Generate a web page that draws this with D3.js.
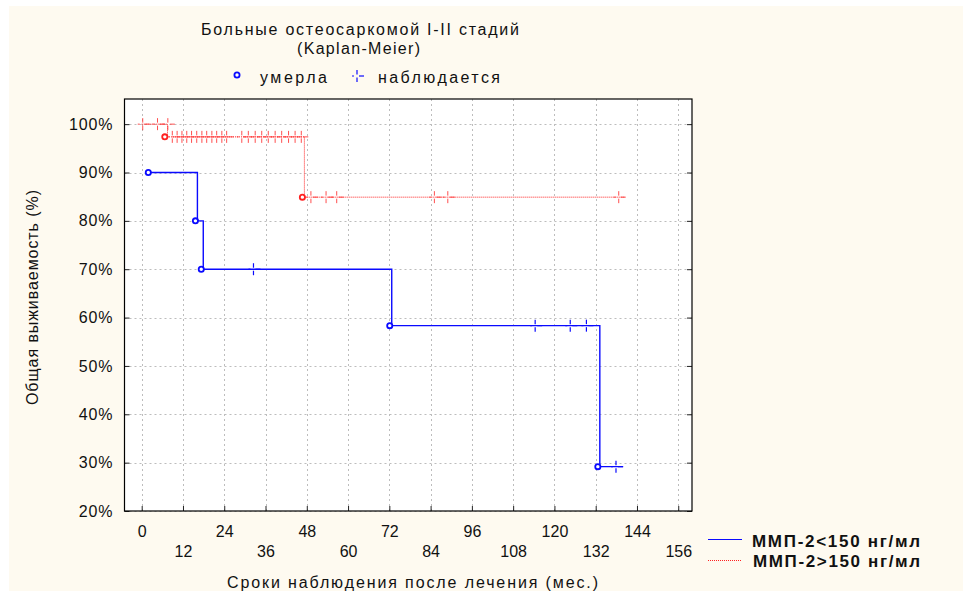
<!DOCTYPE html>
<html><head><meta charset="utf-8">
<script src="https://cdn.jsdelivr.net/npm/d3@7"></script>
<style>
body{margin:0;background:#fff;}
text{font-family:"Liberation Sans",Arial,sans-serif;fill:#111;}
</style></head>
<body><svg id="c" width="963" height="591"></svg>
<script>
// ---- data ----
const xTickValues = [0,12,24,36,48,60,72,84,96,108,120,132,144,156];
const yTickValues = [20,30,40,50,60,70,80,90,100];
// group 1: ММП-2 < 150 (blue)
const blueTimes = [2.5, 16.2, 17.9, 72.7, 133.2, 140];
const blueSurv  = [90, 80, 70, 58.33, 29.17, 29.17];
const blueEventTimes = [2.5, 16.2, 17.9, 72.7, 133.2];
const blueEventSurv  = [90, 80, 70, 58.33, 29.17];
const blueCensTimes = [32.5, 114.4, 124.6, 129.3, 137.9];
const blueCensSurv  = [70, 58.33, 58.33, 58.33, 29.17];
// group 2: ММП-2 > 150 (red)
const redTimes = [0, 7.5, 47.3, 140.5];
const redSurv  = [100, 97.37, 84.9, 84.9];
const redEventTimes = [7.3, 47.3];
const redEventSurv  = [97.37, 84.9];
const redCensTimes = [0.3, 4.6, 7.6,
  8.9, 10.3, 11.7, 13.1, 14.5, 16.0, 17.5, 18.9, 20.4, 21.8, 23.3, 24.7,
  29.1, 31.0, 33.0, 34.9, 36.8, 38.8, 40.7, 42.7, 44.6, 46.4,
  49.2, 53.6, 56.7, 85.1, 89.0, 138.7];
const redCensSurv = [100, 100, 100,
  97.37,97.37,97.37,97.37,97.37,97.37,97.37,97.37,97.37,97.37,97.37,97.37,
  97.37,97.37,97.37,97.37,97.37,97.37,97.37,97.37,97.37,97.37,
  84.9, 84.9, 84.9, 84.9, 84.9, 84.9];

const titleLines = ["Больные остеосаркомой I-II стадий", "(Kaplan-Meier)"];
const legendTop = ["умерла", "наблюдается"];
const seriesNames = ["ММП-2<150 нг/мл", "ММП-2>150 нг/мл"];
const xTitle = "Сроки наблюдения после лечения (мес.)";
const yTitle = "Общая выживаемость (%)";

// ---- drawing ----
const svg = d3.select("#c");
const BLUE = "#0a0aff", RED = "#ff2020";
svg.append("rect").attr("x",9).attr("y",6).attr("width",954).attr("height",585).attr("fill","#fefaf0");

const L=124.5, R=692, T=99, B=511;
const x = d3.scaleLinear().domain([-5,160]).range([L,R]);
const y = d3.scaleLinear().domain([20,105.2]).range([B,T]);

svg.append("rect").attr("x",L).attr("y",T).attr("width",R-L).attr("height",B-T).attr("fill","#fff");

// grid
const g = svg.append("g");
g.selectAll(".gx").data(xTickValues).join("line")
  .attr("x1",d=>Math.round(x(d))+0.5).attr("x2",d=>Math.round(x(d))+0.5)
  .attr("y1",T).attr("y2",B)
  .attr("stroke","#bdbdbd").attr("stroke-dasharray","2,3");
g.selectAll(".gy").data(yTickValues).join("line")
  .attr("y1",d=>Math.round(y(d))+0.5).attr("y2",d=>Math.round(y(d))+0.5)
  .attr("x1",L).attr("x2",R)
  .attr("stroke","#bdbdbd").attr("stroke-dasharray","2,3");

// axes
const fmtP = d=>d+"%";
const ax = svg.append("g").attr("transform",`translate(0,${B})`)
  .call(d3.axisBottom(x).tickValues(xTickValues).tickSize(-5).tickSizeOuter(0));
ax.select(".domain").remove();
ax.selectAll("line").attr("stroke","#222");
ax.selectAll("text").attr("font-size",16).attr("fill","#111")
  .attr("font-family","'Liberation Sans',Arial,sans-serif")
  .attr("dy",null)
  .attr("y",(d,i)=> i%2===0 ? 26 : 46);

const ayL = svg.append("g").attr("transform",`translate(${L},0)`)
  .call(d3.axisLeft(y).tickValues(yTickValues).tickFormat(fmtP).tickSize(-5).tickSizeOuter(0).tickPadding(11));
ayL.select(".domain").remove();
ayL.selectAll("line").attr("stroke","#222");
ayL.selectAll("text").attr("font-size",16).attr("fill","#111").attr("letter-spacing","0.9")
  .attr("font-family","'Liberation Sans',Arial,sans-serif");

const ayR = svg.append("g").attr("transform",`translate(${R},0)`)
  .call(d3.axisRight(y).tickValues(yTickValues).tickFormat("").tickSize(-5).tickSizeOuter(0));
ayR.select(".domain").remove();
ayR.selectAll("line").attr("stroke","#222");

svg.append("rect").attr("x",L).attr("y",T).attr("width",R-L).attr("height",B-T)
  .attr("fill","none").attr("stroke","#000").attr("stroke-width",1.2);

// curves
const line = d3.line().x(d=>x(d[0])).y(d=>y(d[1])).curve(d3.curveStepAfter);
svg.append("path").datum(redTimes.map((t,i)=>[t,redSurv[i]]))
  .attr("d",line).attr("fill","none").attr("stroke",RED).attr("stroke-width",1)
  .attr("stroke-dasharray","1,1");
svg.append("path").datum(blueTimes.map((t,i)=>[t,blueSurv[i]]))
  .attr("d",line).attr("fill","none").attr("stroke",BLUE).attr("stroke-width",1.4);

function cens(sel, color, w){
  sel.append("line").attr("x1",0).attr("x2",0).attr("y1",-6).attr("y2",-1.5);
  sel.append("line").attr("x1",0).attr("x2",0).attr("y1",1.5).attr("y2",6);
  sel.append("line").attr("x1",-5).attr("x2",-3).attr("y1",0).attr("y2",0);
  sel.append("line").attr("x1",2).attr("x2",7).attr("y1",0).attr("y2",0);
  sel.selectAll("line").attr("stroke",color).attr("stroke-width",w||1.2);
}
function censAll(times, surv, color, w){
  svg.append("g").selectAll("g").data(times.map((t,i)=>[t,surv[i]])).join("g")
    .attr("transform",d=>`translate(${x(d[0])},${y(d[1])})`)
    .each(function(){ cens(d3.select(this), color, w); });
}
function events(times, surv, color){
  svg.append("g").selectAll("circle").data(times.map((t,i)=>[t,surv[i]])).join("circle")
    .attr("cx",d=>x(d[0])-2).attr("cy",d=>y(d[1]))
    .attr("r",2.6).attr("fill","#fff").attr("stroke",color).attr("stroke-width",1.8);
}
censAll(redCensTimes, redCensSurv, "#ff3a3a", 0.9);
censAll(blueCensTimes, blueCensSurv, BLUE, 1.2);
events(redEventTimes, redEventSurv, RED);
events(blueEventTimes, blueEventSurv, BLUE);

function txt(str, xp, yp, w, opts={}){
  const t = svg.append("text").attr("x",xp).attr("y",yp).attr("font-size",opts.size||16)
    .attr("textLength",w).attr("lengthAdjust","spacing").text(str);
  if(opts.bold) t.attr("font-weight","bold");
  if(opts.transform) t.attr("transform",opts.transform);
  return t;
}
// titles
txt(titleLines[0], 201, 35, 318);
txt(titleLines[1], 297, 54, 123);
// top legend
svg.append("circle").attr("cx",237).attr("cy",75).attr("r",2.6).attr("fill","#fff")
  .attr("stroke",BLUE).attr("stroke-width",1.8);
txt(legendTop[0], 260, 83, 67);
const lc = svg.append("g").attr("transform","translate(357,76)");
cens(lc, BLUE, 1.2);
txt(legendTop[1], 378, 83, 122);

// axis titles
txt(xTitle, 227, 588, 371);
txt(yTitle, 0, 0, 215, {transform:"translate(38,405) rotate(-90)"});

// bottom legend
svg.append("line").attr("x1",708).attr("x2",742).attr("y1",539.5).attr("y2",539.5)
  .attr("stroke",BLUE).attr("stroke-width",1.2);
svg.append("line").attr("x1",708).attr("x2",742).attr("y1",560.5).attr("y2",560.5)
  .attr("stroke",RED).attr("stroke-width",1).attr("stroke-dasharray","1,1");
txt(seriesNames[0], 752, 546.5, 168, {bold:true, size:17});
txt(seriesNames[1], 753, 566.5, 167, {bold:true, size:17});
</script></body></html>
